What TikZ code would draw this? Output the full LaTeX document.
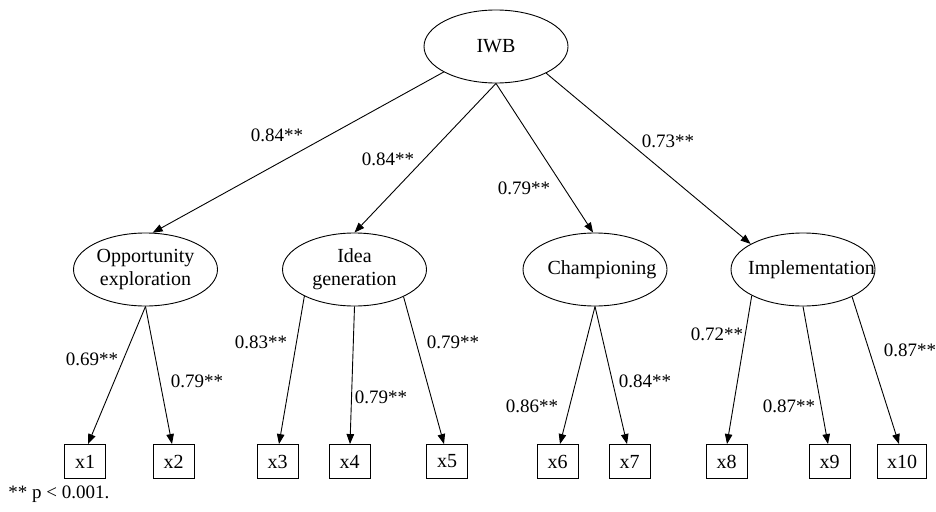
\documentclass[tikz,border=0pt]{standalone}
\usepackage{fontspec}
\setmainfont{Liberation Serif}
\usetikzlibrary{shapes.geometric,arrows.meta}
\begin{document}
\begin{tikzpicture}[x=1pt,y=-1pt,
  font=\fontsize{19}{23}\selectfont,
  every path/.style={line width=0.9pt},
  factor/.style={draw,ellipse,minimum width=144pt,minimum height=73pt,inner sep=0pt,align=center,font=\fontsize{20}{23}\selectfont},
  item/.style={draw,rectangle,minimum width=41pt,minimum height=34pt,inner sep=0pt,font=\fontsize{20}{23}\selectfont},
  wide/.style={item,minimum width=49pt},
  load/.style={-{Triangle[length=10pt,width=7.5pt]}},
  lab/.style={inner sep=0pt,anchor=center}]
\useasboundingbox (0,0) rectangle (936,511);
% latent variables
\node[factor] (iwb) at (496,46.5) {IWB};
\node[factor] (opp) at (145.5,269.5) {Opportunity\\exploration};
\node[factor] (idea) at (354.5,269.5) {Idea\\generation};
\node[factor] (champ) at (595,269.5) {\makebox[0pt]{\hspace*{14pt}Championing}};
\node[factor] (impl) at (803,269.5) {\makebox[0pt]{\hspace*{17pt}Implementation}};
% indicators
\node[item] (x1) at (85,461.5) {x1};
\node[item] (x2) at (173.5,461.5) {x2};
\node[item] (x3) at (277.5,461.5) {x3};
\node[item] (x4) at (349.5,461.5) {x4};
\node[item] (x5) at (447,461.5) {x5};
\node[item] (x6) at (557.5,461.5) {x6};
\node[item] (x7) at (629.5,461.5) {x7};
\node[item] (x8) at (726.5,461.5) {x8};
\node[item] (x9) at (829.5,461.5) {x9};
\node[wide] (x10) at (902,461.5) {x10};
% second-order loadings
\draw[load] (iwb.206.6) -- (opp.79.9);
\draw[load] (iwb.270) -- (idea.90);
\draw[load] (iwb.270) -- (champ.93);
\draw[load] (iwb.332.5) -- (impl.154.3);
% first-order loadings
\draw[load] (opp.270) -- ([xshift=3pt]x1.north);
\draw[load] (opp.270) -- ([xshift=-1.5pt]x2.north);
\draw[load] (idea.208.1) -- ([xshift=1.5pt]x3.north);
\draw[load] (idea.270) -- ([xshift=0.5pt]x4.north);
\draw[load] (idea.331.7) -- ([xshift=-3pt]x5.north);
\draw[load] (champ.270) -- ([xshift=2.5pt]x6.north);
\draw[load] (champ.270) -- ([xshift=-2.5pt]x7.north);
\draw[load] (impl.207.5) -- ([xshift=0.5pt]x8.north);
\draw[load] (impl.270) -- ([xshift=-1.5pt]x9.north);
\draw[load] (impl.331.9) -- ([xshift=-3pt]x10.north);
% labels
\node[lab] (l1) at (277,135) {0.84**};
\node[lab] (l2) at (388,159.5) {0.84**};
\node[lab] (l3) at (524,188) {0.79**};
\node[lab] (l4) at (668,141) {0.73**};
\node[lab] (l5) at (92,359) {0.69**};
\node[lab] (l6) at (197,381) {0.79**};
\node[lab] (l7) at (261,342) {0.83**};
\node[lab] (l8) at (381,397) {0.79**};
\node[lab] (l9) at (453,342) {0.79**};
\node[lab] (l10) at (532,406) {0.86**};
\node[lab] (l11) at (645,381) {0.84**};
\node[lab] (l12) at (717,334) {0.72**};
\node[lab] (l13) at (789,406) {0.87**};
\node[lab] (l14) at (910,350) {0.87**};
\node[inner sep=0pt,anchor=base west] (note) at (8,498) {** p < 0.001.};
\end{tikzpicture}
\end{document}
